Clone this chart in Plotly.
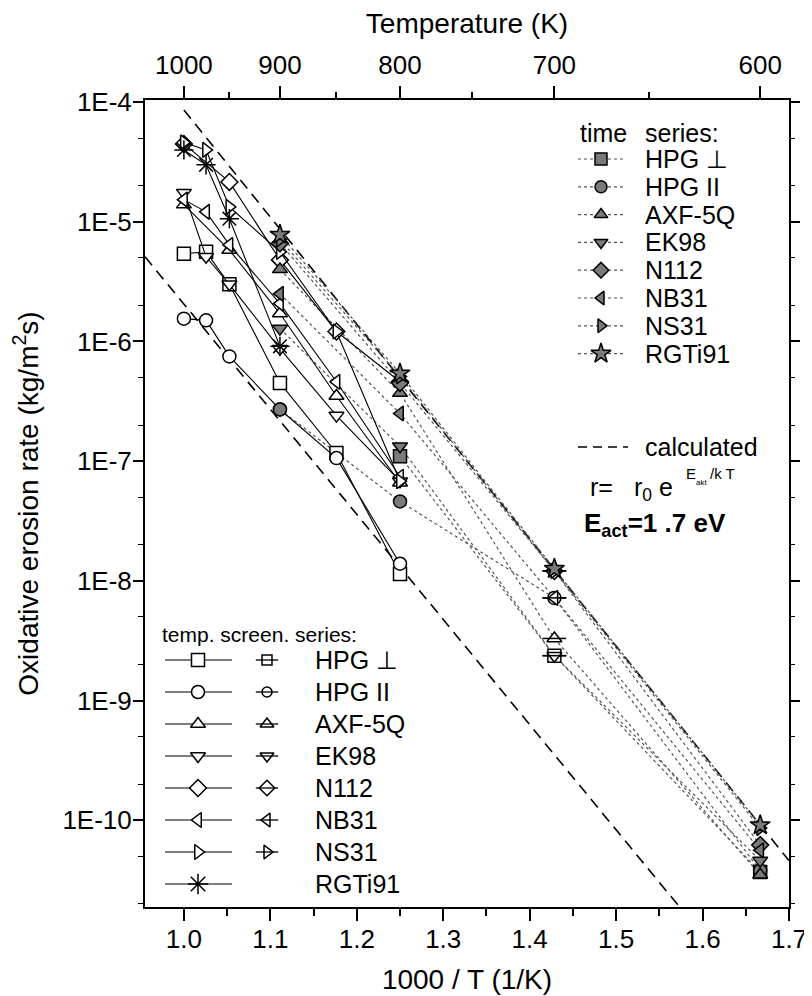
import plotly.graph_objects as go

# ---------------- data ----------------
T_screen = [1000, 975, 950, 900, 850, 800]
T_time = [900, 800, 700, 600]
T_top_major = [1000, 900, 800, 700, 600]
T_top_minor = [950, 850, 750, 650]

names = ["HPG ⊥", "HPG II", "AXF-5Q", "EK98", "N112", "NB31", "NS31", "RGTi91"]
sym_open = ["square", "circle", "triangle-up", "triangle-down", "diamond",
            "triangle-left", "triangle-right", "asterisk-open"]
sym_fill = ["square", "circle", "triangle-up", "triangle-down", "diamond",
            "triangle-left", "triangle-right", "star"]

# temperature screening series (open markers, solid lines)
screen_hpg_perp = [5.4e-6, 5.6e-6, 3.0e-6, 4.5e-7, 1.17e-7, 1.14e-8]
screen_hpg_par = [1.55e-6, 1.50e-6, 7.5e-7, 2.7e-7, 1.06e-7, 1.39e-8]
screen_axf = [1.39e-5, None, 5.8e-6, 1.71e-6, 3.5e-7, 6.6e-8]
screen_ek98 = [1.75e-5, 5.1e-6, 3.0e-6, 8.7e-7, 2.4e-7, 6.8e-8]
screen_n112 = [4.47e-5, None, 2.15e-5, 4.8e-6, 1.21e-6, 4.6e-7]
screen_nb31 = [1.53e-5, 1.21e-5, 6.4e-6, 2.07e-6, 4.6e-7, 7.4e-8]
screen_ns31 = [4.6e-5, 3.98e-5, 1.33e-5, 5.6e-6, 1.21e-6, 6.8e-8]
screen_rgti91 = [3.98e-5, 2.99e-5, 1.06e-5, 9.1e-7, None, None]

# time series (filled markers, dotted lines); 700 K points shown struck/open
time_hpg_perp = [None, 1.10e-7, 2.37e-9, 3.7e-11]
time_hpg_par = [2.7e-7, 4.6e-8, 7.2e-9, 3.8e-11]
time_axf = [4.0e-6, 3.7e-7, 3.3e-9, 3.5e-11]
time_ek98 = [1.28e-6, 1.33e-7, 2.37e-9, 4.6e-11]
time_n112 = [6.6e-6, 4.5e-7, 1.21e-8, 6.2e-11]
time_nb31 = [2.5e-6, 2.5e-7, 7.2e-9, 5.6e-11]
time_ns31 = [7.1e-6, 5.1e-7, 1.21e-8, 8.6e-11]
time_rgti91 = [7.8e-6, 5.4e-7, 1.26e-8, 9.1e-11]

# calculated lines (r = r0 exp(-Eact/kT)), endpoints
calc_upper_x = [1.0, 1.70]
calc_upper_r = [8.6e-5, 4.6e-11]
calc_lower_x = [0.955, 1.60]
calc_lower_r = [5.1e-6, 1.1e-11]

y_tick_vals = [1e-4, 1e-5, 1e-6, 1e-7, 1e-8, 1e-9, 1e-10]
y_tick_text = ["1E-4", "1E-5", "1E-6", "1E-7", "1E-8", "1E-9", "1E-10"]

screen_all = [screen_hpg_perp, screen_hpg_par, screen_axf, screen_ek98,
              screen_n112, screen_nb31, screen_ns31, screen_rgti91]
time_all = [time_hpg_perp, time_hpg_par, time_axf, time_ek98,
            time_n112, time_nb31, time_ns31, time_rgti91]

# ---------------- figure ----------------
FONT = "Liberation Sans, Arial, Helvetica, sans-serif"
GRAY = "#7a7a7a"
W, H = 812, 996
OFF = 8                      # page body margin
L, R, T, B = 145, 789, 100, 907  # plot area in page pixels
TXT = 25
TICK = 26
TITLE = 28

x_s = [1000.0 / t for t in T_screen]
x_t = [1000.0 / t for t in T_time]

fig = go.Figure()

# calculated lines
for cx, cr in [(calc_upper_x, calc_upper_r), (calc_lower_x, calc_lower_r)]:
    fig.add_trace(go.Scatter(x=cx, y=cr, mode="lines",
                             line=dict(color="black", width=1.6, dash="11px,7px")))

# time-series dotted lines
for vals in time_all:
    fig.add_trace(go.Scatter(x=x_t, y=vals, mode="lines", connectgaps=True,
                             line=dict(color="#555555", width=1.2, dash="dot")))

# temperature screening series
for i, vals in enumerate(screen_all):
    is_ast = sym_open[i] == "asterisk-open"
    fig.add_trace(go.Scatter(
        x=x_s, y=vals, mode="lines+markers", connectgaps=True,
        line=dict(color="black", width=1.1),
        marker=dict(symbol=sym_open[i], size=16 if is_ast else 13,
                    color="white" if not is_ast else "black",
                    line=dict(color="black", width=1.5))))

# time-series markers
for i, vals in enumerate(time_all):
    struck = i != 7
    colors = [GRAY, GRAY, "white" if struck else GRAY, GRAY]
    size = 15 if sym_fill[i] == "star" else 13
    fig.add_trace(go.Scatter(
        x=x_t, y=vals, mode="markers",
        marker=dict(symbol=sym_fill[i], size=size, color=colors,
                    line=dict(color="black", width=1.5))))
    if struck:
        fig.add_trace(go.Scatter(
            x=[x_t[2]], y=[vals[2]], mode="markers",
            marker=dict(symbol="line-ew", size=17,
                        line=dict(color="black", width=1.5))))

# ---------------- legends (drawn in page-pixel space on x3/y3) ----------------
ann = []


def text(x, y, s, size=TXT, anchor="left"):
    ann.append(dict(x=x, y=y, xref="x3", yref="y3", text=s, showarrow=False,
                    xanchor=anchor, yanchor="middle",
                    font=dict(size=size, family=FONT, color="black")))


# time series legend (upper right)
text(603, 133, "time", anchor="center")
text(643, 133, "series:")
for i, nm in enumerate(names):
    yy = 159 + i * 27.8
    fig.add_trace(go.Scatter(x=[578, 625], y=[yy, yy], xaxis="x3", yaxis="y3",
                             mode="lines", line=dict(color="#555555", width=1.2, dash="dot")))
    fig.add_trace(go.Scatter(x=[601], y=[yy], xaxis="x3", yaxis="y3", mode="markers",
                             marker=dict(symbol=sym_fill[i], size=15 if i == 7 else 12,
                                         color=GRAY, line=dict(color="black", width=1.5))))
    text(643, yy, nm)

# calculated legend
fig.add_trace(go.Scatter(x=[578, 628], y=[447, 447], xaxis="x3", yaxis="y3", mode="lines",
                         line=dict(color="black", width=1.6, dash="9px,6px")))
text(643, 447, "calculated")
text(588, 487, "r=")
text(632, 489, "r<sub>0</sub> e")
text(684, 473, "E", size=15)
text(694, 482, "akt", size=8)
text(708, 473, "/k T", size=15)
text(582, 524, "<b>E<sub>act</sub>=1 .7 eV</b>", size=26)

# temp screening legend (lower left)
text(160, 634, "temp. screen. series:", size=21)
for i, nm in enumerate(names):
    yy = 660 + i * 32
    is_ast = i == 7
    fig.add_trace(go.Scatter(x=[165, 232], y=[yy, yy], xaxis="x3", yaxis="y3",
                             mode="lines", line=dict(color="black", width=1.1)))
    fig.add_trace(go.Scatter(x=[198], y=[yy], xaxis="x3", yaxis="y3", mode="markers",
                             marker=dict(symbol=sym_open[i], size=17 if is_ast else 13,
                                         color="black" if is_ast else "white",
                                         line=dict(color="black", width=1.5))))
    if not is_ast:
        fig.add_trace(go.Scatter(x=[267], y=[yy], xaxis="x3", yaxis="y3", mode="markers",
                                 marker=dict(symbol=sym_open[i], size=10 if i in (0, 1) else 12,
                                             color="white",
                                             line=dict(color="black", width=1.5))))
        fig.add_trace(go.Scatter(x=[267], y=[yy], xaxis="x3", yaxis="y3", mode="markers",
                                 marker=dict(symbol="line-ew", size=16,
                                             line=dict(color="black", width=1.3))))
    text(313, yy, nm)

xr = [0.955, 1.70]
yr = [-10.725, -3.983]
fig.update_layout(
    width=W, height=H,
    margin=dict(l=L - OFF, r=W - R + OFF, t=T - OFF, b=H - B + OFF),
    plot_bgcolor="white", paper_bgcolor="white",
    showlegend=False,
    font=dict(family=FONT, size=TXT, color="black"),
    xaxis=dict(range=xr, tick0=1.0, dtick=0.1, tickformat=".1f",
               ticks="outside", ticklen=12, tickwidth=1.5, tickcolor="black",
               showline=True, linewidth=2, linecolor="black", mirror=False,
               showgrid=False, zeroline=False, ticklabelstandoff=-4,
               minor=dict(tick0=1.0, dtick=0.05, ticks="outside", ticklen=7,
                          tickwidth=1.5, tickcolor="black", showgrid=False),
               tickfont=dict(size=TICK),
               title=dict(text="1000 / T (1/K)", font=dict(size=TITLE), standoff=16)),
    xaxis2=dict(range=xr, overlaying="x", side="top",
                tickvals=[1000.0 / t for t in T_top_major],
                ticktext=[str(t) for t in T_top_major],
                ticks="outside", ticklen=12, tickwidth=1.5, tickcolor="black",
                showline=True, linewidth=2, linecolor="black",
                showgrid=False, zeroline=False, tickfont=dict(size=TICK),
                ticklabelstandoff=2,
                title=dict(text="Temperature (K)", font=dict(size=TITLE), standoff=8)),
    xaxis4=dict(range=xr, overlaying="x", side="top",
                tickvals=[1000.0 / t for t in T_top_minor],
                showticklabels=False, ticks="outside", ticklen=7, tickwidth=1.5,
                tickcolor="black", showline=False, showgrid=False, zeroline=False),
    yaxis=dict(type="log", range=yr,
               tickvals=y_tick_vals, ticktext=y_tick_text,
               ticks="outside", ticklen=10, tickwidth=1.5, tickcolor="black",
               showline=True, linewidth=2, linecolor="black", mirror=True,
               showgrid=False, zeroline=False, ticklabelstandoff=-4,
               minor=dict(ticks="outside", ticklen=5, tickwidth=1, tickcolor="black",
                          showgrid=False),
               tickfont=dict(size=TICK),
               title=dict(text="Oxidative erosion rate (kg/m<sup>2</sup>s)",
                          font=dict(size=TITLE), standoff=22)),
    yaxis5=dict(type="log", range=yr, overlaying="y", side="right",
                tickvals=y_tick_vals, showticklabels=False,
                ticks="outside", ticklen=10, tickwidth=1.5, tickcolor="black",
                showline=False, showgrid=False, zeroline=False,
                minor=dict(ticks="outside", ticklen=5, tickwidth=1, tickcolor="black",
                           showgrid=False)),
    xaxis3=dict(range=[L, R], overlaying="x", visible=False),
    yaxis3=dict(range=[B, T], overlaying="y", visible=False),
    annotations=ann,
)

# invisible traces so that the extra axes are rendered
fig.add_trace(go.Scatter(x=[1.0], y=[1e-5], xaxis="x2", mode="markers",
                         marker=dict(opacity=0), hoverinfo="skip"))
fig.add_trace(go.Scatter(x=[1.0], y=[1e-5], xaxis="x4", mode="markers",
                         marker=dict(opacity=0), hoverinfo="skip"))
fig.add_trace(go.Scatter(x=[1.0], y=[1e-5], yaxis="y5", mode="markers",
                         marker=dict(opacity=0), hoverinfo="skip"))

fig.write_html("out.html")
